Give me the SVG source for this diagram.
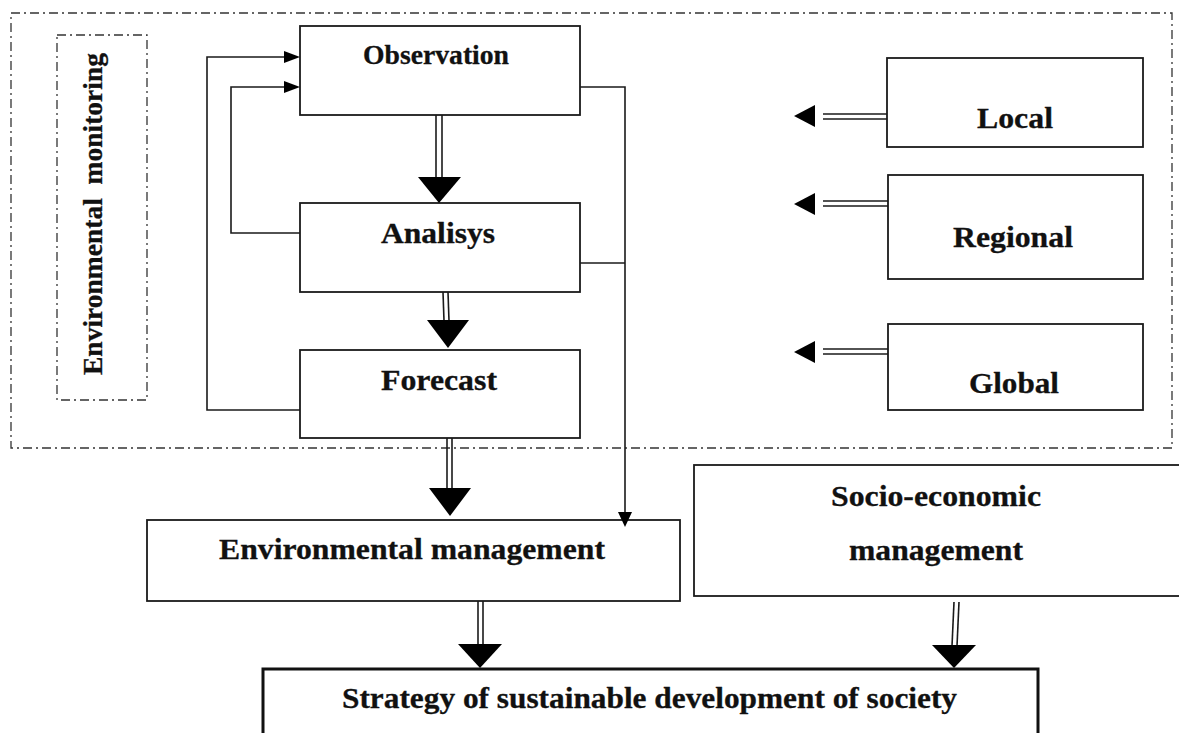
<svg xmlns="http://www.w3.org/2000/svg" width="1179" height="733" viewBox="0 0 1179 733">
<style>
  .box { fill: #fff; stroke: #1a1a1a; stroke-width: 1.8; }
  .thick { fill: #fff; stroke: #111; stroke-width: 3; }
  .dash { fill: none; stroke: #333; stroke-width: 1.3; stroke-dasharray: 9 4 2 4; }
  .ln { fill: none; stroke: #1a1a1a; stroke-width: 1.6; }
  .dbl { fill: none; stroke: #1a1a1a; stroke-width: 1.6; }
  .head { fill: #000; stroke: none; }
  .t { font-family: "Liberation Serif", "Times New Roman", serif; font-weight: bold; fill: #111; stroke: #111; stroke-width: 0.3; }
</style>
<rect width="1179" height="733" fill="#fff"/>

<g id="monitoring-frame">
  <rect class="dash" x="11" y="13" width="1161" height="435"/>
</g>

<g id="env-monitoring">
  <rect class="dash" x="57" y="35" width="90" height="365"/>
  <text class="t" font-size="27" xml:space="preserve" transform="translate(102,375) rotate(-90)" textLength="322" lengthAdjust="spacingAndGlyphs">Environmental  monitoring</text>
</g>

<g id="observation">
  <rect class="box" x="300" y="26" width="280" height="89"/>
  <text class="t" font-size="27" x="363" y="64" textLength="146" lengthAdjust="spacingAndGlyphs">Observation</text>
</g>
<g id="analisys">
  <rect class="box" x="300" y="203" width="280" height="89"/>
  <text class="t" font-size="30" x="381" y="243" textLength="114" lengthAdjust="spacingAndGlyphs">Analisys</text>
</g>
<g id="forecast">
  <rect class="box" x="300" y="350" width="280" height="88"/>
  <text class="t" font-size="30" x="381" y="390" textLength="116" lengthAdjust="spacingAndGlyphs">Forecast</text>
</g>

<g id="local">
  <rect class="box" x="887" y="58" width="256" height="89"/>
  <text class="t" font-size="30" x="977" y="128" textLength="76" lengthAdjust="spacingAndGlyphs">Local</text>
</g>
<g id="regional">
  <rect class="box" x="888" y="175" width="255" height="104"/>
  <text class="t" font-size="30" x="953" y="247" textLength="120" lengthAdjust="spacingAndGlyphs">Regional</text>
</g>
<g id="global">
  <rect class="box" x="888" y="324" width="255" height="86"/>
  <text class="t" font-size="30" x="969" y="393" textLength="90" lengthAdjust="spacingAndGlyphs">Global</text>
</g>

<g id="env-management">
  <rect class="box" x="147" y="520" width="533" height="81"/>
  <text class="t" font-size="30" x="219" y="559" textLength="386" lengthAdjust="spacingAndGlyphs">Environmental management</text>
</g>
<g id="socio-management">
  <rect class="box" x="694" y="465" width="500" height="131"/>
  <text class="t" font-size="30" x="831" y="506" textLength="210" lengthAdjust="spacingAndGlyphs">Socio-economic</text>
  <text class="t" font-size="30" x="849" y="560" textLength="174" lengthAdjust="spacingAndGlyphs">management</text>
</g>
<g id="strategy">
  <rect class="thick" x="263" y="669" width="775" height="80"/>
  <text class="t" font-size="30" x="342" y="708" textLength="615" lengthAdjust="spacingAndGlyphs">Strategy of sustainable development of society</text>
</g>

<g id="connectors">
  <polyline class="ln" points="300,410 207,410 207,57 286,57"/>
  <polygon class="head" points="284,51 300,57 284,63"/>
  <polyline class="ln" points="300,233 231,233 231,87 286,87"/>
  <polygon class="head" points="284,81 300,87 284,93"/>
  <polyline class="ln" points="580,87 625,87 625,514"/>
  <line class="ln" x1="580" y1="263" x2="625" y2="263"/>
  <polygon class="head" points="618,512 632,512 625,527"/>
  <line class="dbl" x1="436" y1="115" x2="436" y2="178"/>
  <line class="dbl" x1="442" y1="115" x2="442" y2="178"/>
  <polygon class="head" points="418,177 461,177 439,203"/>
  <line class="dbl" x1="443" y1="292" x2="444" y2="321"/>
  <line class="dbl" x1="448" y1="292" x2="449" y2="321"/>
  <polygon class="head" points="427,320 469,320 448,348"/>
  <line class="dbl" x1="447" y1="438" x2="447" y2="489"/>
  <line class="dbl" x1="452" y1="438" x2="452" y2="489"/>
  <polygon class="head" points="429,488 471,488 450,516"/>
  <line class="dbl" x1="478" y1="601" x2="478" y2="645"/>
  <line class="dbl" x1="483" y1="601" x2="483" y2="645"/>
  <polygon class="head" points="458,644 502,644 480,668"/>
  <line class="dbl" x1="954" y1="602" x2="952" y2="646"/>
  <line class="dbl" x1="959" y1="602" x2="957" y2="646"/>
  <polygon class="head" points="932,645 976,645 954,668"/>
  <line class="dbl" x1="823" y1="114" x2="887" y2="114"/>
  <line class="dbl" x1="823" y1="119" x2="887" y2="119"/>
  <polygon class="head" points="815,105 815,127 794,116"/>
  <line class="dbl" x1="823" y1="201" x2="888" y2="201"/>
  <line class="dbl" x1="823" y1="206" x2="888" y2="206"/>
  <polygon class="head" points="815,193 815,215 794,204"/>
  <line class="dbl" x1="823" y1="349" x2="888" y2="349"/>
  <line class="dbl" x1="823" y1="354" x2="888" y2="354"/>
  <polygon class="head" points="815,341 815,363 794,352"/>
</g>
</svg>
